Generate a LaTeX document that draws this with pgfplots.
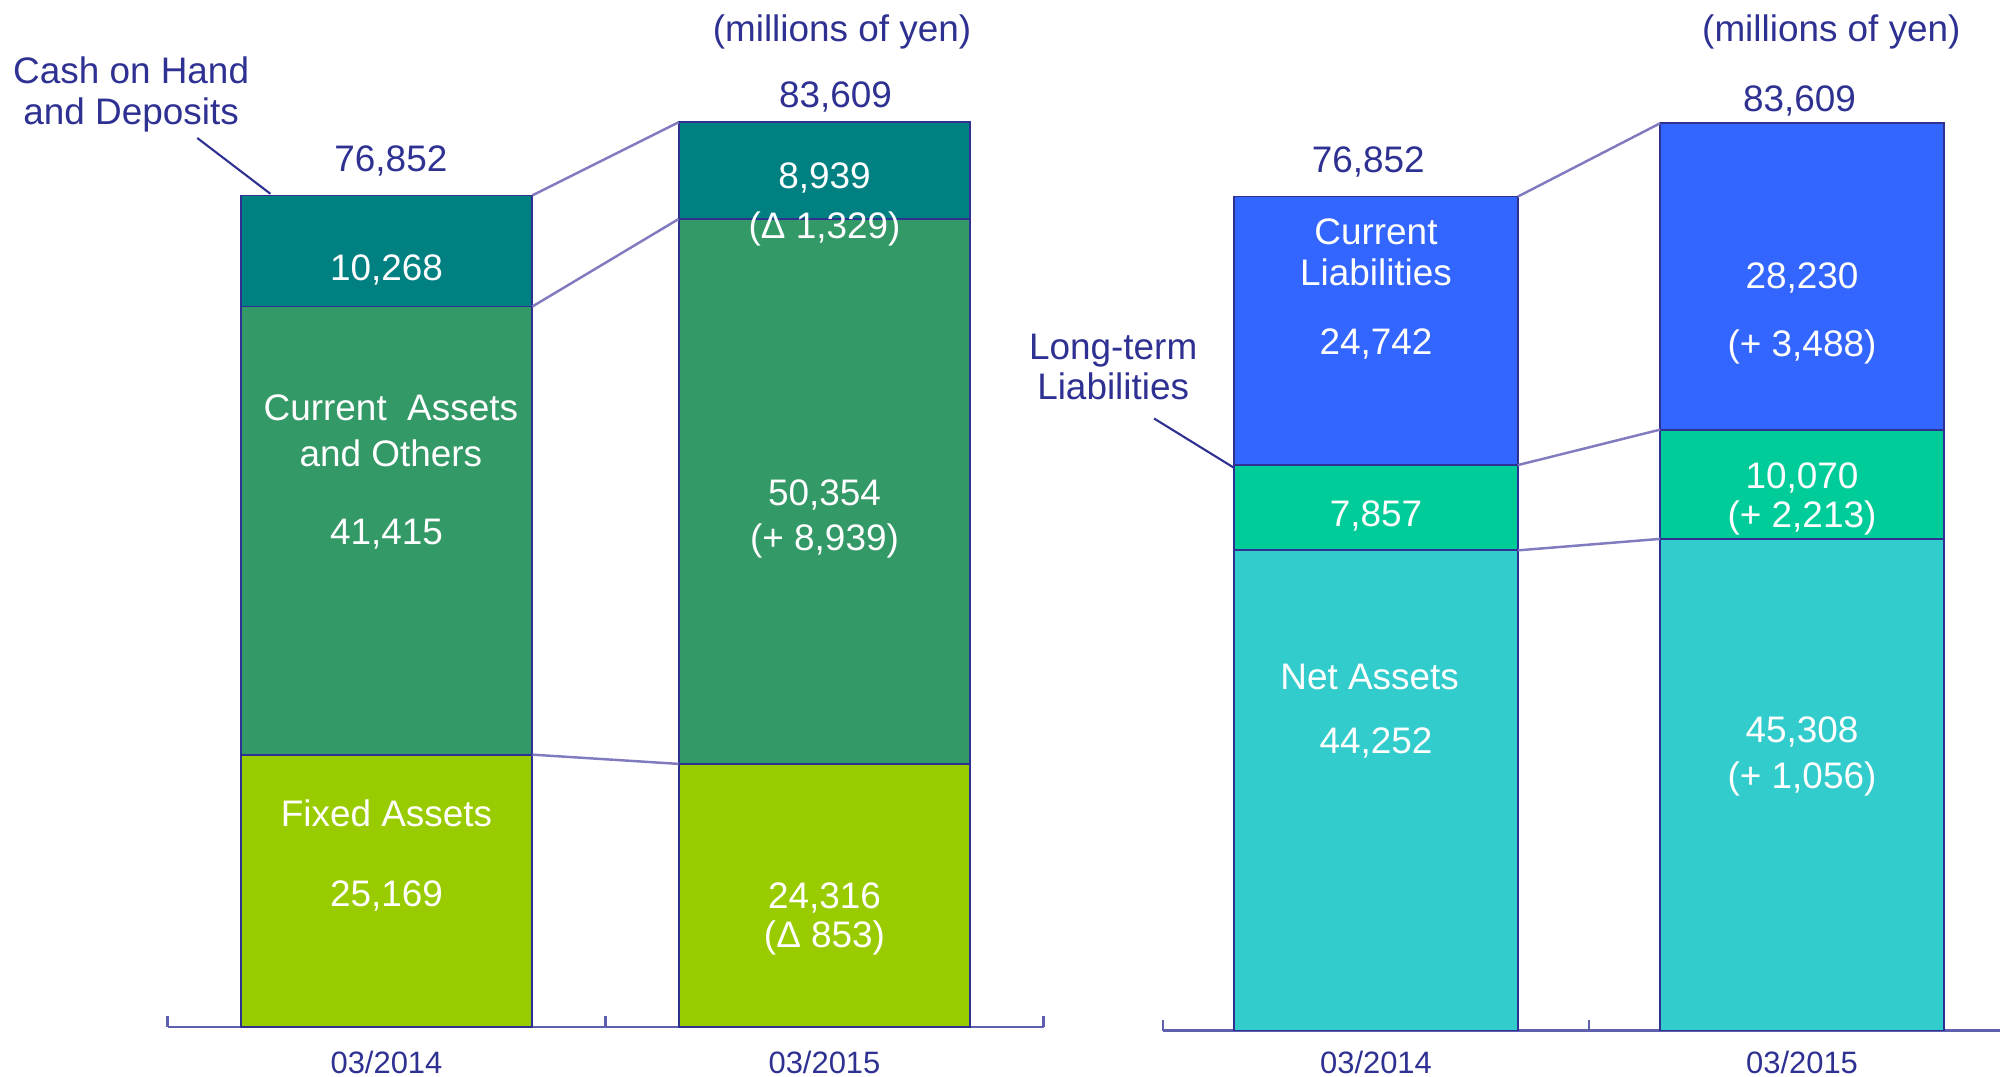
\documentclass[border=0pt]{standalone}
\usepackage{pgfplots}
\pgfplotsset{compat=1.18}
\usepackage{fontspec}
\setmainfont{Liberation Sans}
\definecolor{cash}{RGB}{0,128,128}
\definecolor{cur}{RGB}{51,153,102}
\definecolor{fix}{RGB}{153,204,0}
\definecolor{cl}{RGB}{51,102,255}
\definecolor{ltl}{RGB}{0,204,153}
\definecolor{na}{RGB}{51,204,204}
\definecolor{navy}{RGB}{46,49,146}
\definecolor{axc}{RGB}{95,95,175}
\definecolor{conn}{RGB}{128,122,190}
\begin{document}
\begin{tikzpicture}
\path[use as bounding box] (0,0) rectangle (200mm,107.6mm);
\clip (0,0) rectangle (200mm,107.6mm);
\pgfplotsset{
  base/.style={scale only axis, xmin=-0.5, xmax=1.5, ymin=0, ymax=95000,
    anchor=south west, clip=false},
  bars/.style={base, ybar stacked, bar width=0.666,
    axis x line=bottom, axis y line=none,
    x axis line style={-, draw=axc, line width=0.7pt},
    xtick={0,1}, xticklabels={}, major tick length=0pt,
    minor xtick={-0.5,0.5,1.5}, minor tick length=1.1mm, tick align=inside,
    minor tick style={draw=axc, line width=0.7pt}},
  over/.style={base, axis lines=none},
  seg/.style={draw=navy, line width=0.5pt},
  cn/.style={conn, line width=0.7pt},
}
\tikzset{
  lb/.style={font=\fontsize{10.5}{11.6}\selectfont, text=navy, align=center, inner sep=0pt},
  wl/.style={font=\fontsize{10.5}{11.6}\selectfont, text=white, align=center, inner sep=0pt},
  tl/.style={font=\fontsize{8.8}{10}\selectfont, text=navy, inner sep=0pt},
}
% ---------------- left chart -----------------
\begin{axis}[bars, at={(16.75mm,4.9mm)}, width=87.6mm, height=102.8mm]
\addplot[seg, fill=fix]  coordinates {(0,25169) (1,24316)};
\addplot[seg, fill=cur]  coordinates {(0,41415) (1,50354)};
\addplot[seg, fill=cash] coordinates {(0,10268) (1,8939)};
\end{axis}
\begin{axis}[over, at={(16.75mm,4.9mm)}, width=87.6mm, height=102.8mm]
\addplot[cn] coordinates {(0.333,76852) (0.667,83609)};
\addplot[cn] coordinates {(0.333,66584) (0.667,74670)};
\addplot[cn] coordinates {(0.333,25169) (0.667,24316)};
\addplot[navy, line width=0.6pt] coordinates {(-0.432,82155) (-0.265,77000)};
\node[lb] at (axis cs:0.01,80020) {76,852};
\node[lb] at (axis cs:1.025,85910) {83,609};
\node[lb] at (axis cs:1.04,91950) {(millions of yen)};
\node[lb] at (axis cs:-0.583,86150) {Cash on Hand\\and Deposits};
\node[wl] at (axis cs:0,70000) {10,268};
\node[wl] at (axis cs:1,78500) {8,939};
\node[wl] at (axis cs:1,73780) {(Δ 1,329)};
\node[wl, font=\fontsize{10.5}{13.1}\selectfont] at (axis cs:0.01,55100) {Current\ \ Assets\\and Others};
\node[wl] at (axis cs:0,45560) {41,415};
\node[wl] at (axis cs:1,49200) {50,354};
\node[wl] at (axis cs:1,44950) {(+ 8,939)};
\node[wl] at (axis cs:0,19780) {Fixed Assets};
\node[wl] at (axis cs:0,12100) {25,169};
\node[wl] at (axis cs:1,11880) {24,316};
\node[wl] at (axis cs:1,8220) {(Δ 853)};
\node[tl] at (axis cs:0,-3300) {03/2014};
\node[tl] at (axis cs:1,-3300) {03/2015};
\end{axis}
% ---------------- right chart -----------------
\begin{axis}[bars, at={(116.3mm,4.54mm)}, width=85.2mm, height=103.1mm, bar width=0.665]
\addplot[seg, fill=na]  coordinates {(0,44252) (1,45308)};
\addplot[seg, fill=ltl] coordinates {(0,7857) (1,10070)};
\addplot[seg, fill=cl]  coordinates {(0,24742) (1,28230)};
\end{axis}
\begin{axis}[over, at={(116.3mm,4.54mm)}, width=85.2mm, height=103.1mm]
\addplot[cn] coordinates {(0.333,76852) (0.667,83609)};
\addplot[cn] coordinates {(0.333,52109) (0.667,55378)};
\addplot[cn] coordinates {(0.333,44252) (0.667,45308)};
\addplot[navy, line width=0.6pt] coordinates {(-0.521,56404) (-0.335,51900)};
\node[lb] at (axis cs:-0.018,80050) {76,852};
\node[lb] at (axis cs:0.994,85650) {83,609};
\node[lb] at (axis cs:1.069,92000) {(millions of yen)};
\node[lb] at (axis cs:-0.617,61150) {Long-term\\Liabilities};
\node[wl] at (axis cs:0,71700) {Current\\Liabilities};
\node[wl] at (axis cs:0,63250) {24,742};
\node[wl] at (axis cs:1,69350) {28,230};
\node[wl] at (axis cs:1,63000) {(+ 3,488)};
\node[wl] at (axis cs:0,47400) {7,857};
\node[wl] at (axis cs:1,50920) {10,070};
\node[wl] at (axis cs:1,47280) {(+ 2,213)};
\node[wl] at (axis cs:-0.015,32620) {Net Assets};
\node[wl] at (axis cs:0,26500) {44,252};
\node[wl] at (axis cs:1,27560) {45,308};
\node[wl] at (axis cs:1,23220) {(+ 1,056)};
\node[tl] at (axis cs:0,-2900) {03/2014};
\node[tl] at (axis cs:1,-2900) {03/2015};
\end{axis}
\end{tikzpicture}
\end{document}
